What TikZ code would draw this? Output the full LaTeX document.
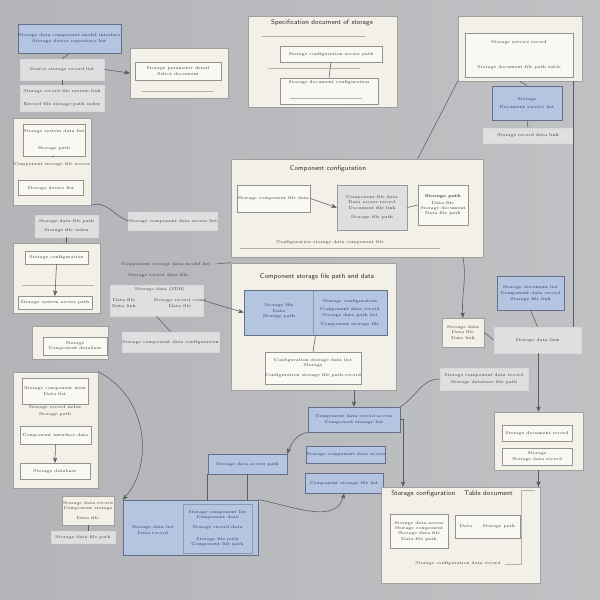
\documentclass[tikz,border=0pt]{standalone}
\usepackage{fontspec}
\usepackage{tikz}
\usetikzlibrary{arrows,positioning}
\definecolor{backdrop}{RGB}{184,186,189}
\definecolor{paper}{RGB}{243,241,231}
\definecolor{stripgray}{RGB}{222,223,224}
\definecolor{boxblue}{RGB}{180,197,226}
\definecolor{inkblue}{RGB}{38,48,88}
\definecolor{ink}{RGB}{55,55,60}
\definecolor{linkgray}{RGB}{90,93,100}
\tikzset{
	x=0.25mm, y=-0.25mm, % one unit = one pixel, y runs down
	>=stealth', % small sharp tips
	panel/.style={draw=gray!75, line width=0.5pt, fill=paper, inner sep=0pt, text=ink},
	strip/.style={draw=white!70!gray, line width=0.5pt, fill=stripgray, inner sep=0pt, text=ink},
	inner/.style={draw=gray!85, line width=0.4pt, fill=paper!50!white, inner sep=0pt, text=ink},
	bluebox/.style={draw=inkblue!70, line width=0.5pt, fill=boxblue, inner sep=0pt, text=inkblue},
	wh/.style 2 args={minimum width=#1*0.25mm, minimum height=#2*0.25mm},
	tiny/.style={font=\fontsize{3}{3.8}\selectfont, align=center, text=ink},
	head/.style={font=\sffamily\fontsize{4.8}{6}\selectfont, text=ink!80!black},
	link/.style={draw=linkgray, line width=0.4pt},
	rule/.style={draw=gray!60, line width=0.4pt},
}
\begin{document}
\begin{tikzpicture}
  \shade[left color=backdrop!97!black, right color=backdrop!90!white] (0,0) rectangle (600,600);
  \useasboundingbox (0,0) rectangle (600,600);

  % top left column
  \node[tiny, bluebox, wh={103}{29}] (repoList) at (69.5,38.5) {Storage data component model interface\\[1pt]Storage device repository list};
  \node[tiny, strip, wh={84}{21}] (recordA) at (62,69.5) {Source storage record list};
  \node[tiny, strip, wh={84}{26}] (recordB) at (62,98) {Storage record file system link\\[5pt]Record file storage path index};
  \node[panel, wh={98}{50}] (paramBox) at (179,73) {};
  \node[tiny, inner, wh={86}{18}] (paramSel) at (178,71) {Storage parameter detail\\Select document};
  \draw[rule] (142,91) -- (214,91);

  % specification panel
  \node[panel, wh={149}{91}] (spec) at (322.5,61.5) {};
  \node[head] (specHead) at (322,23) {Specification document of storage};
  \draw[rule] (262,36) -- (365,36);
  \node[tiny, inner, wh={102}{16}] (specPath) at (331,54) {Storage configuration access path};
  \draw[rule] (268,68) -- (360,68);
  \node[tiny, inner, wh={98}{26}] (specDoc) at (329,91) {Storage document configuration\\[9pt]\phantom{x}};
  \draw[rule] (290,98) -- (362,98);

  % service panel, top right
  \node[panel, wh={124}{65}] (service) at (520,48.5) {};
  \node[tiny, inner, wh={108}{44}] (serviceTab) at (519,55) {Storage service record\\[14pt]Storage document file path table};
  \node[tiny, bluebox, wh={70}{34}] (docList) at (527,103) {Storage\\[2pt]Document service list};
  \node[tiny, strip, wh={90}{15}] (dataLink) at (528,135.5) {Storage record data link};

  % left column
  \node[panel, wh={78}{87}] (accessA) at (52,161.5) {};
  \node[tiny, inner, wh={62}{32}] (sysList) at (54,140) {Storage system data list\\[8pt]Storage path};
  \node[tiny] (accessTxt) at (52,164) {Component storage file access};
  \node[tiny, inner, wh={65}{15}] (deviceList) at (51,188) {Storage device list};
  \node[tiny, strip, wh={63}{22}] (fileIndex) at (66.5,226) {Storage data file path\\[2pt]Storage file index};
  \node[panel, wh={87}{70}] (accessB) at (56.5,278) {};
  \node[tiny, inner, wh={63}{13}] (confB) at (56.5,257.5) {Storage configuration};
  \draw[rule] (22,285) -- (94,285);
  \node[tiny, inner, wh={74}{13}] (pathB) at (55,302.5) {Storage system access path};

  \node[tiny, strip, wh={86}{18}] (accessList) at (173,221) {Storage component data access list};
  \node[tiny] (modelTxt) at (166,264) {Component storage data model list};
  \node[tiny] (recordTxt) at (158,275) {Storage record data file};
  \node[strip, wh={93}{31}] (sdb) at (156.5,300.5) {};
  \node[tiny] (sdbHead) at (160,289) {Storage data (SDB)};
  \node[tiny] (sdbLeft) at (124,303) {Data file\\Data link};
  \node[tiny] (sdbRight) at (180,303) {Storage record count\\Data file};

  \node[panel, wh={76}{33}] (dbBox) at (70,342.5) {};
  \node[tiny, inner, wh={64}{18}] (dbInner) at (75,346) {Storage\\Component database};
  \node[tiny, strip, wh={81}{20}] (confGrey) at (170.5,342) {Storage component data configuration};

  \node[panel, wh={85}{116}] (compC) at (55.5,430) {};
  \node[tiny, inner, wh={66}{26}] (itemC) at (55,391) {Storage component item\\Data list};
  \node[tiny] (indexC) at (55,411) {Storage record index\\[1pt]Storage path};
  \node[tiny, inner, wh={71}{18}] (ifaceC) at (55.5,435) {Component interface data};
  \node[tiny, inner, wh={70}{16}] (dbC) at (55,471) {Storage database};

  % component configuration panel
  \node[panel, wh={252}{98}] (comp) at (357,208) {};
  \node[head] (compHead) at (328,169) {Component configuration};
  \node[tiny, inner, wh={73}{27}] (compFile) at (273.5,198.5) {Storage component file data};
  \node[tiny, strip, draw=gray!80, wh={70}{45}] (compRec) at (372,207.5) {Component file data\\Data access record\\Document file link\\[3pt]Storage file path};
  \node[tiny, inner, wh={50}{40}] (compPath) at (443,205) {\textbf{Storage path}\\[1pt]Data file\\Storage document\\Data file path};
  \node[tiny] (compTxt) at (330,242) {Configuration storage data component file};
  \draw[rule] (240,248) -- (440,248);

  % component storage panel
  \node[panel, wh={165}{127}] (store) at (313.5,326.5) {};
  \node[head] (storeHead) at (317,277) {Component storage file path and data};
  \node[bluebox, wh={143}{45}] (storeBlue) at (315.5,312.5) {};
  \draw[draw=inkblue!50, line width=0.4pt] (313,291) -- (313,334);
  \node[tiny, text=inkblue] (storeFile) at (279,311) {Storage file\\Data\\Storage path};
  \node[tiny, text=inkblue] (storeConf) at (350,313) {Storage configuration\\[2pt]Component data record\\Storage data path list\\[3pt]Component storage file};
  \node[tiny, inner, wh={96}{32}] (storeList) at (313,368) {Configuration storage data list\\Storage\\[3pt]Configuration storage file path record};

  % right side
  \node[tiny, bluebox, wh={67}{34}] (recordR) at (530.5,293) {Storage document list\\[1pt]Component data record\\Storage file link};
  \node[tiny, panel, wh={42}{29}] (linkR) at (463,332.5) {Storage data\\Data file\\Data link};
  \node[tiny, strip, wh={87}{26}] (stripR) at (537.5,340) {Storage data link};
  \node[tiny, strip, wh={88}{22}] (dbPathR) at (484,379) {Storage component data record\\[1pt]Storage database file path};
  \node[panel, wh={89}{58}] (docR) at (538.5,441) {};
  \node[tiny, inner, wh={70}{16}] (docRec) at (537,433) {Storage document record};
  \node[tiny, inner, wh={70}{17}] (docData) at (537,456.5) {Storage\\Storage data record};

  % bottom blue boxes
  \node[tiny, bluebox, wh={92}{25}] (accessRec) at (354,419.5) {Component data record access\\[1pt]Component storage list};
  \node[tiny, bluebox, wh={76}{17}] (accessData) at (346,454.5) {Storage component data access};
  \node[tiny, bluebox, wh={78}{20}] (fileList) at (344,483) {Component storage file list};
  \node[tiny, bluebox, wh={79}{20}] (pathBlue) at (247.5,464) {Storage data access path};
  \node[bluebox, wh={135}{55}] (bigBlue) at (190.5,527.5) {};
  \node[tiny, text=inkblue] (bigTxt) at (153,530) {Storage data list\\Data record};
  \node[tiny, draw=inkblue!50, line width=0.4pt, inner sep=0pt, wh={69}{49}, text=inkblue] (bigList) at (217.5,528.5) {Storage component list\\Component data\\[3pt]Storage record data\\[5pt]Storage file path\\Component file path};
  \node[tiny, panel, wh={52}{29}] (recordBox) at (88,510.5) {Storage data record\\Component storage\\[3pt]Data file};
  \node[tiny, strip, wh={64}{12}] (pathStrip) at (83,537) {Storage data file path};

  % table panel, bottom right
  \node[panel, wh={159}{96}] (table) at (460.5,535) {};
  \node[head] (tableHead) at (452,494) {Storage configuration \quad Table document};
  \node[tiny, inner, wh={58}{34}] (tableLeft) at (419,531) {Storage data access\\Storage component\\Storage data file\\Data file path};
  \node[tiny, inner, wh={65}{23}] (tableRight) at (487.5,526.5) {Data \qquad Storage path};
  \node[tiny] (tableTxt) at (458,563) {Storage configuration data record};
  \draw[rule] (535,490) -- (521,490) -- (521,564) -- (505,564);

  % connectors
  \coordinate (bend) at (403,419.5);
  \draw[link] (repoList.south) -- (recordA.north);
  \draw[link] (recordA.south) -- (recordB.north);
  \draw[link, ->] (recordA.east) -- (paramBox.west);
  \draw[link] (specPath.south) -- (specDoc.north);
  \draw[link] (service.south west) -- (comp.north -| compPath.west);
  \draw[link] (service.south) -- (docList.north);
  \draw[link] (docList.south) -- (dataLink.north);
  \draw[link] (dataLink.east |- service.south) -- (dataLink.east |- stripR.north);
  \draw[link] (sysList.south) -- (accessTxt.north);
  \draw[link] (accessA.south east) to[out=20, in=160] (accessList.west);
  \draw[link] (fileIndex.south) -- (accessB.north -| fileIndex.south);
  \draw[link, ->] (confB.south) -- (pathB.north);
  \draw[link] (modelTxt.east) -- (store.north west);
  \draw[link, ->] (sdb.east) -- (storeBlue.west);
  \draw[link] (sdb.south) -- (confGrey.north);
  \draw[link, ->] (compFile.east) -- (compRec.west);
  \draw[link] (compRec.east) -- (compPath.west);
  \draw[link, ->] (comp.south -| linkR.north) to[out=-80, in=95] (linkR.north);
  \draw[link] (linkR.east) -- (stripR.west);
  \draw[link] (recordR.south) -- (stripR.north);
  \draw[link] (storeBlue.south) -- (storeList.north);
  \draw[link, ->] (store.south -| accessRec.north) -- (accessRec.north);
  \draw[link] (dbPathR.west) to[out=180, in=30] (accessRec.north east);
  \draw[link, ->] (accessRec.east) -- (bend) -- (table.north -| bend);
  \draw[link, ->] (docR.north |- stripR.south) -- (docR.north);
  \draw[link, ->] (docR.south) -- (table.north -| docR.south);
  \draw[link, ->] (ifaceC.south) -- (dbC.north);
  \draw[link, ->] (compC.north east) .. controls (152,400) and (152,470) .. (bigBlue.north west);
  \draw[link, ->] (accessRec.south west) to[out=190, in=70] (pathBlue.north east);
  \draw[link] (pathBlue.south) -- (bigBlue.north -| pathBlue.south);
  \draw[link] (pathBlue.south west) -- (bigBlue.north -| pathBlue.south west);
  \draw[link, ->] (bigBlue.north east) to[out=-10, in=-100] (fileList.south);
  \draw[link] (recordBox.south) -- (pathStrip.north -| recordBox.south);
\end{tikzpicture}
\end{document}
